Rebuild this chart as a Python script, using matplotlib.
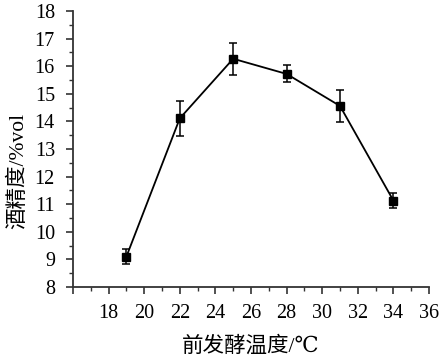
import matplotlib
matplotlib.use("Agg")
import matplotlib.pyplot as plt
from matplotlib.ticker import MultipleLocator, FuncFormatter

temps = [19, 22, 25, 28, 31, 34]
alcohol = [9.10, 14.11, 16.27, 15.72, 14.56, 11.13]
errors = [0.27, 0.63, 0.58, 0.31, 0.58, 0.27]
xlabel = "前发酵温度/℃"
ylabel = "酒精度/%vol"

plt.rcParams['font.family'] = ['Liberation Serif', 'DejaVu Serif', 'Noto Sans CJK SC', 'DejaVu Sans']

fig = plt.figure(figsize=(4.41, 3.61), dpi=100)
ax = fig.add_axes([0.1655, 0.205, 0.9728 - 0.1655, 0.9695 - 0.205])

ax.errorbar(temps, alcohol, yerr=errors, color='black', marker='s', markersize=5.5,
            linewidth=1.3, capsize=3, elinewidth=1.1, capthick=1.1)

ax.set_xlim(16, 36)
ax.set_ylim(8, 18)
ax.xaxis.set_major_locator(MultipleLocator(2))
ax.xaxis.set_minor_locator(MultipleLocator(1))
ax.yaxis.set_major_locator(MultipleLocator(1))
ax.yaxis.set_minor_locator(MultipleLocator(0.5))
ax.xaxis.set_major_formatter(FuncFormatter(lambda v, p: "" if abs(v - 16) < 1e-9 else f"{v:g}"))

for s in ['top', 'right']:
    ax.spines[s].set_visible(False)
for s in ['left', 'bottom']:
    ax.spines[s].set_linewidth(1.3)
    ax.spines[s].set_color('#333333')

ax.tick_params(which='major', direction='out', length=5, width=1.2, labelsize=14.5, color='#333333')
ax.tick_params(which='minor', direction='out', length=3, width=1.0, color='#333333')
ax.tick_params(axis='x', pad=7)
ax.tick_params(axis='y', pad=8)

ax.set_xlabel(xlabel, fontsize=15.5)
ax.xaxis.set_label_coords(0.5, -0.178)
ax.set_ylabel(ylabel, fontsize=15.5)
ax.yaxis.set_label_coords(-0.126, 0.42)

fig.savefig("out.png", dpi=100)
